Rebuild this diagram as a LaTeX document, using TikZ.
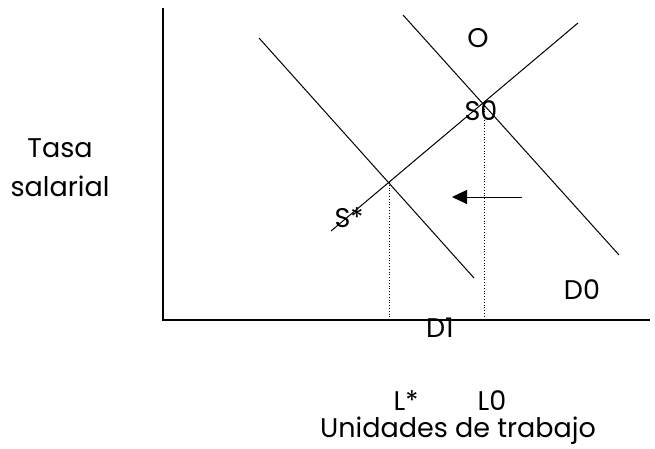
\documentclass[tikz,border=0pt]{standalone}
\usepackage{fontspec}
\setmainfont{Poppins}
\usetikzlibrary{arrows.meta,positioning,calc}

\begin{document}
\begin{tikzpicture}[
    x=1pt, y=-1pt,
    axis/.style={line width=1.4pt},
    curve/.style={line width=1pt},
    guide/.style={line width=0.8pt, dotted},
    movearrow/.style={line width=1pt, -{Triangle[length=15pt,width=14pt]}},
    lbl/.style={font=\fontsize{27}{32}\selectfont, inner sep=0pt}
  ]
  \useasboundingbox (0,0) rectangle (655,449);
  % axes
  \coordinate (top) at (163,8);
  \coordinate (orig) at (163,320);
  \coordinate (right) at (650,320);
  \draw[axis] (top) -- (orig) -- (right);

  % demand and supply curves
  \coordinate (D1a) at (259,38);  \coordinate (D1b) at (474,278);
  \coordinate (D0a) at (403,15);  \coordinate (D0b) at (619,255);
  \coordinate (Sa) at (331,231);  \coordinate (Sb) at (578,23);
  \draw[curve] (D1a) -- (D1b);
  \draw[curve] (D0a) -- (D0b);
  \draw[curve] (Sa) -- (Sb);

  % equilibria
  \coordinate (Eq1) at (389,182);
  \coordinate (Eq0) at (484,103);
  \coordinate (Lstar) at (389,320);
  \coordinate (Lzero) at (484,320);
  \draw[guide] (Eq1) -- (Lstar);
  \draw[guide] (Eq0) -- (Lzero);

  % shift of demand
  \coordinate (arrS) at (522,197);
  \coordinate (arrE) at (452,197);
  \draw[movearrow] (arrS) -- (arrE);

  % labels
  \node[lbl] (oferta) at (478,38) {O};
  \node[lbl] (s0) at (481,111) {S0};
  \node[lbl] (sst) at (349,218) {S*};
  \node[lbl] (d0) at (582,290) {D0};
  \node[lbl] (d1) at (440,328) {D1};
  \node[lbl] (lst) at (406,401) {L*};
  \node[lbl] (l0) at (492,401) {L0};
  \node[lbl] (xlab) at (458,431) {Unidades de trabajo};
  \node[lbl] (ylab1) at (60,148) {Tasa};
  \node[lbl] (ylab2) at (60,186) {salarial};
\end{tikzpicture}
\end{document}
